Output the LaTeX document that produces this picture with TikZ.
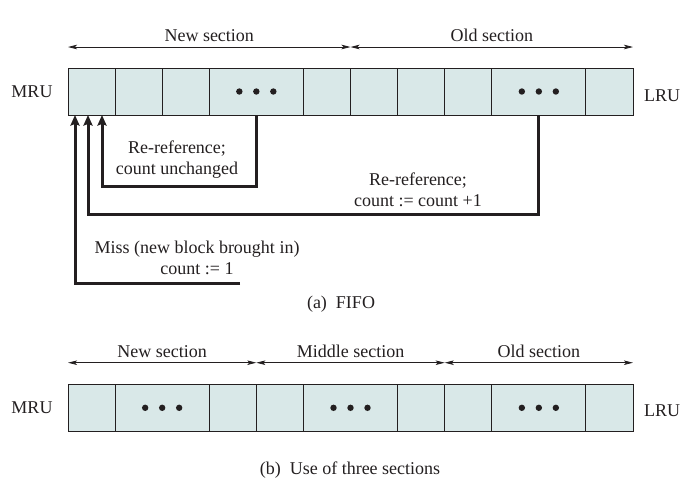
\documentclass[tikz,border=0pt]{standalone}
\usepackage{fontspec}
\setmainfont{Liberation Serif}
\usetikzlibrary{arrows.meta,calc}
\definecolor{cellfill}{RGB}{217,232,232}
\definecolor{ink}{RGB}{35,31,32}
\begin{document}
\begin{tikzpicture}[x=1pt,y=-1pt,
  font=\fontsize{18}{21}\selectfont,
  cell/.style={draw=ink, fill=cellfill, line width=0.9pt, minimum height=47, minimum width=47.08, inner sep=0, outer sep=0, anchor=north west},
  wcell/.style={cell, minimum width=94.17},
  secarrow/.style={draw=ink, line width=0.8pt, {Stealth[length=9pt,width=4.5pt,inset=2pt]}-{Stealth[length=9pt,width=4.5pt,inset=2pt]}},
  conn/.style={draw=ink, line width=3pt, -{Stealth[length=10.5pt,width=9pt,inset=1.5pt]}},
  lbl/.style={text=ink, inner sep=1pt},
  dotc/.style={fill=ink}]
\useasboundingbox (0,0) rectangle (700,491);
% ---------- (a) FIFO ----------
\node[cell]  (a1)  at (68,68) {};
\node[cell]  (a2)  at (115.08,68) {};
\node[cell]  (a3)  at (162.17,68) {};
\node[wcell] (a4)  at (209.25,68) {};
\node[cell]  (a5)  at (303.42,68) {};
\node[cell]  (a6)  at (350.5,68) {};
\node[cell]  (a7)  at (397.58,68) {};
\node[cell]  (a8)  at (444.67,68) {};
\node[wcell] (a9)  at (491.75,68) {};
\node[cell]  (a10) at (585.92,68) {};
\foreach \c in {a4,a9}{
  \fill[dotc] ($(\c.center)+(-17,0)$) circle (3.2);
  \fill[dotc] (\c.center) circle (3.2);
  \fill[dotc] ($(\c.center)+(17,0)$) circle (3.2);
}
\node[lbl] (mrua) at (32,92) {MRU};
\node[lbl] (lrua) at (662,96) {LRU};
\draw[secarrow] ($(a1.north west)+(0,-21)$) -- ($(a6.north west)+(0,-21)$)
  node[midway, above=4pt, lbl] (nsa) {New section};
\draw[secarrow] ($(a6.north west)+(0,-21)$) -- ($(a10.north east)+(0,-21)$)
  node[midway, above=4pt, lbl] (osa) {Old section};
\coordinate (t1) at ($(a1.south west)+(34,0)$);
\coordinate (t2) at ($(a1.south west)+(20,0)$);
\coordinate (t3) at ($(a1.south west)+(7,0)$);
\coordinate (m0) at (240,283);
\draw[conn] (a4.south) -- ++(0,71) -| (t1);
\draw[conn] (a9.south) -- ++(0,99) -| (t2);
\draw[conn] (m0) -| (t3);
\node[lbl, align=center] (l1) at (177,160) {Re-reference;\\count unchanged};
\node[lbl, align=center] (l2) at (418,190) {Re-reference;\\count := count +1};
\node[lbl, align=center] (l3) at (197,258) {Miss (new block brought in)\\count := 1};
\node[lbl] (capa) at (341,304) {(a)\enspace FIFO};
% ---------- (b) three sections ----------
\node[cell]  (b1) at (68,384.3) {};
\node[wcell] (b2) at (115.08,384.3) {};
\node[cell]  (b3) at (209.25,384.3) {};
\node[cell]  (b4) at (256.33,384.3) {};
\node[wcell] (b5) at (303.42,384.3) {};
\node[cell]  (b6) at (397.58,384.3) {};
\node[cell]  (b7) at (444.67,384.3) {};
\node[wcell] (b8) at (491.75,384.3) {};
\node[cell]  (b9) at (585.92,384.3) {};
\foreach \c in {b2,b5,b8}{
  \fill[dotc] ($(\c.center)+(-17,0)$) circle (3.2);
  \fill[dotc] (\c.center) circle (3.2);
  \fill[dotc] ($(\c.center)+(17,0)$) circle (3.2);
}
\node[lbl] (mrub) at (32,408) {MRU};
\node[lbl] (lrub) at (662,411) {LRU};
\draw[secarrow] ($(b1.north west)+(0,-21.6)$) -- ($(b4.north west)+(0,-21.6)$)
  node[midway, above=4pt, lbl] (nsb) {New section};
\draw[secarrow] ($(b4.north west)+(0,-21.6)$) -- ($(b7.north west)+(0,-21.6)$)
  node[midway, above=4pt, lbl] (msb) {Middle section};
\draw[secarrow] ($(b7.north west)+(0,-21.6)$) -- ($(b9.north east)+(0,-21.6)$)
  node[midway, above=4pt, lbl] (osb) {Old section};
\node[lbl] (capb) at (350,470) {(b)\enspace Use of three sections};
\end{tikzpicture}
\end{document}
